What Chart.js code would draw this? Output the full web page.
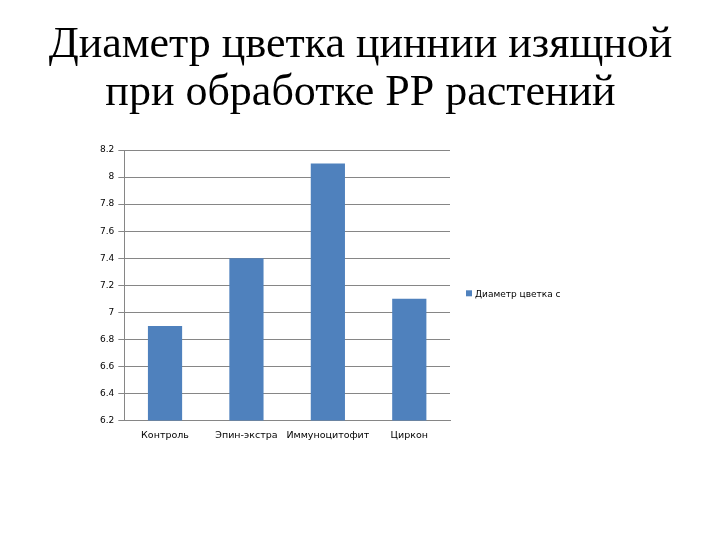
<!DOCTYPE html>
<html>
<head>
<meta charset="utf-8">
<script src="https://cdn.jsdelivr.net/npm/chart.js@4/dist/chart.umd.min.js"></script>
<style>
  html, body { margin: 0; padding: 0; background: #fff; }
  #wrap { width: 721px; height: 541px; }
</style>
</head>
<body>
<div id="wrap"><canvas id="myChart"></canvas></div>
<script>
const categories = ["Контроль", "Эпин-экстра", "Иммуноцитофит", "Циркон"]
const diameters = [6.9, 7.4, 8.1, 7.1]
const seriesLabel = "Диаметр цветка с"
const titleLines = ["Диаметр цветка циннии изящной", "при обработке РР растений"]

// title spans the whole slide and the legend sits beside the plot, so both are drawn here
const slideDecor = {
    id: "slideDecor",
    afterDraw(chart) {
        const ctx = chart.ctx
        const area = chart.chartArea
        ctx.save()
        ctx.fillStyle = "#000"
        ctx.textAlign = "center"
        ctx.textBaseline = "alphabetic"
        ctx.font = "44px 'Liberation Serif'"
        ctx.fillText(titleLines[0], chart.width / 2, 57)
        ctx.fillText(titleLines[1], chart.width / 2, 105)

        const ds = chart.data.datasets[0]
        const ly = area.top + (area.bottom - area.top) / 2 + 8
        ctx.fillStyle = ds.backgroundColor
        ctx.fillRect(area.right + 16, ly - 3, 6, 6)
        ctx.fillStyle = "#000"
        ctx.textAlign = "left"
        ctx.textBaseline = "middle"
        ctx.font = "9px 'DejaVu Sans'"
        ctx.fillText(ds.label, area.right + 25, ly + 1)
        ctx.restore()
    }
}

new Chart("myChart", {
    type: "bar",
    data: {
        labels: categories,
        datasets: [{
            label: seriesLabel,
            data: diameters,
            backgroundColor: "#4F81BD",
            borderWidth: 0,
            barPercentage: 0.42,
            categoryPercentage: 1
        }]
    },
    plugins: [slideDecor],
    options: {
        responsive: true,
        maintainAspectRatio: false,
        animation: false,
        layout: {
            padding: {left: 96, right: 271, bottom: 99, top: 150}
        },
        plugins: {
            title: {display: false},
            legend: {display: false},
            tooltip: {enabled: false}
        },
        scales: {
            x: {
                grid: {display: false},
                border: {display: true, color: "#868686"},
                ticks: {
                    color: "#000",
                    font: {family: "DejaVu Sans", size: 9.5},
                    padding: 1,
                    maxRotation: 0,
                    minRotation: 0,
                    autoSkip: false
                }
            },
            y: {
                min: 6.2,
                max: 8.2,
                ticks: {
                    stepSize: 0.2,
                    color: "#000",
                    font: {family: "DejaVu Sans", size: 9},
                    padding: 4,
                    callback: v => Math.round(v * 10) / 10
                },
                grid: {color: "#868686", tickLength: 6},
                border: {display: true, color: "#868686"}
            }
        }
    }
});
</script>
</body>
</html>
